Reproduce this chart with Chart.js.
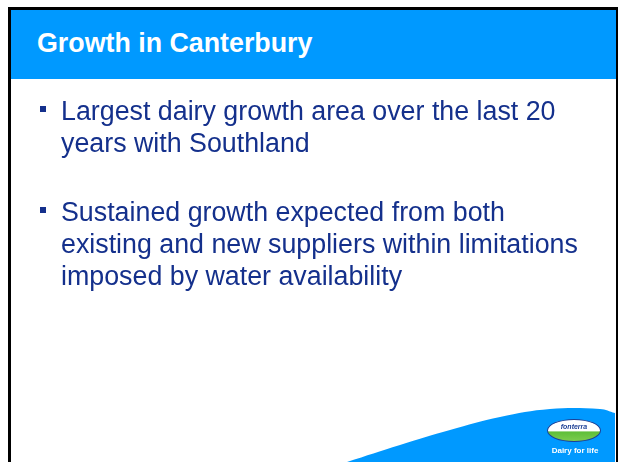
<!DOCTYPE html>
<html>
<head>
<meta charset="utf-8">
<script src="https://cdn.jsdelivr.net/npm/chart.js@4.4.0/dist/chart.umd.min.js"></script>
<style>
  html, body { margin: 0; padding: 0; background: #fff; }
  body { width: 618px; height: 462px; position: relative; overflow: hidden; font-family: "Liberation Sans", Arial, sans-serif; }
  #slide { position: absolute; left: 0; top: 0; width: 618px; height: 462px; }
  .edge { position: absolute; background: #000; }
  #header { position: absolute; left: 11px; top: 10px; width: 605px; height: 69px; background: #0099ff; }
  #title { position: absolute; left: 37px; top: 30px; font-size: 26.8px; line-height: 27px; font-weight: bold; color: #fff; white-space: nowrap; }
  .bullet { position: absolute; left: 61px; font-size: 26.8px; line-height: 32px; color: #14308c; white-space: nowrap; }
  .sq { position: absolute; left: 40px; width: 6px; height: 6px; background: #14308c; }
  #chart { position: absolute; left: 0; top: 0; }
  #logo { position: absolute; left: 547px; top: 419px; width: 52px; height: 21px; border: 1.5px solid #1c3f95; border-radius: 50%;
          background: linear-gradient(to bottom, #fff 0%, #fff 50%, #5fbf3a 58%, #7ccc4f 100%); overflow: hidden; }
  #logo span { position: absolute; left: 0; right: 0; top: 3px; text-align: center; font-size: 7px; font-style: italic; font-weight: bold; color: #1c3f95; }
  #tag { position: absolute; left: 548px; top: 446px; width: 54px; text-align: center; font-size: 8px; font-weight: bold; color: #fff; white-space: nowrap; }
</style>
</head>
<body>
<div id="slide">
  <canvas id="chart" width="618" height="462"></canvas>
  <div class="edge" style="left:8px;top:7px;width:3px;height:455px"></div>
  <div class="edge" style="left:8px;top:7px;width:610px;height:3px"></div>
  <div class="edge" style="left:616px;top:7px;width:2px;height:455px"></div>
  <div id="header"></div>
  <div id="title">Growth in Canterbury</div>

  <div class="sq" style="top:106px"></div>
  <div class="bullet" style="top:95px">Largest dairy growth area over the last 20<br>years with Southland</div>

  <div class="sq" style="top:207px"></div>
  <div class="bullet" style="top:196px">Sustained growth expected from both<br>existing and new suppliers within limitations<br>imposed by water availability</div>

  <div id="logo"><span>fonterra</span></div>
  <div id="tag">Dairy for life</div>
</div>

<script>
// Swoosh edge in the bottom right corner (x, y from top in px)
const swooshX = [347, 400, 450, 500, 550, 600, 615];
const swooshY = [462, 445, 430, 417, 409, 409, 413];

const swooshPoints = swooshX.map((x, i) => ({ x: x, y: swooshY[i] }));

// Create the chart
const slideChart = new Chart(document.getElementById('chart').getContext('2d'), {
    type: 'line',
    data: {
        datasets: [
            {
                label: 'swoosh',
                data: swooshPoints,
                borderWidth: 0,
                borderColor: '#0099ff',
                backgroundColor: '#0099ff',
                pointRadius: 0,
                tension: 0.4,
                fill: 'start' // down to the bottom edge of the slide
            }
        ]
    },
    options: {
        responsive: false,
        animation: false,
        layout: { padding: 0 },
        plugins: {
            legend: { display: false },
            tooltip: { enabled: false },
            title: { display: false }
        },
        scales: {
            x: { type: 'linear', min: 0, max: 618, display: false },
            y: { type: 'linear', min: 0, max: 462, reverse: true, display: false }
        }
    }
});
</script>
</body>
</html>
